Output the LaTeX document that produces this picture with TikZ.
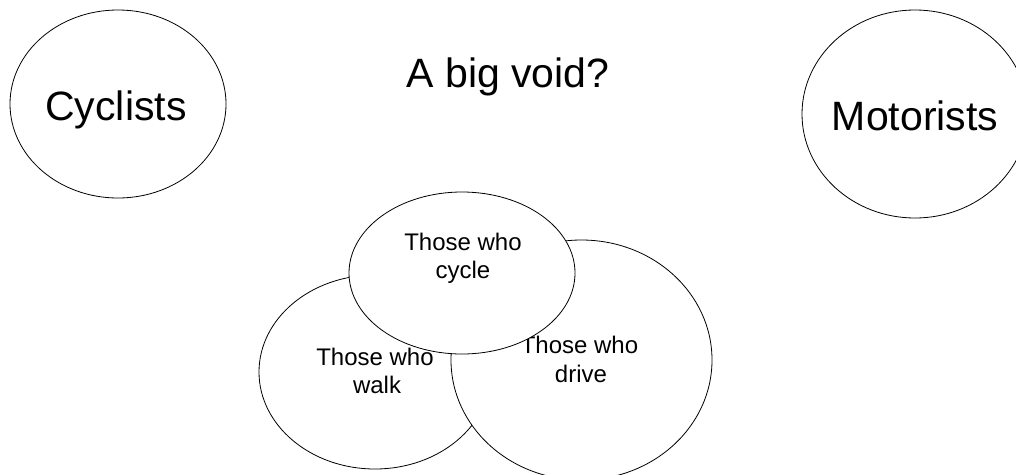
\documentclass[tikz,border=0pt]{standalone}
\usepackage{fontspec}
\setmainfont{Liberation Sans}
\usetikzlibrary{shapes.geometric}
\tikzset{
  blob/.style={ellipse, draw=black, fill=white, line width=0.8pt, inner sep=0pt, outer sep=0pt},
  bigtext/.style={anchor=base, inner sep=0pt, font=\fontsize{41}{48}\selectfont},
  smalltext/.style={anchor=base, inner sep=0pt, font=\fontsize{24}{28}\selectfont}
}
\begin{document}
\begin{tikzpicture}[x=1pt,y=-1pt]
\useasboundingbox (0,0) rectangle (1016,474);
\clip (0,0) rectangle (1016,474);
\node[blob, minimum width=216pt, minimum height=188pt] (cyclists) at (118,104) {};
\node[bigtext] (cyclistsT) at (116,120) {Cyclists};
\node[bigtext] (void) at (508,87) {A big void?};
\node[blob, minimum width=226pt, minimum height=208pt] (motorists) at (915,114) {};
\node[bigtext] (motoristsT) at (915,130) {Motorists};
\node[blob, minimum width=232pt, minimum height=194pt] (walk) at (375,372) {};
\node[smalltext] (walk1) at (375,365) {Those who};
\node[smalltext] (walk2) at (377,393) {walk};
\node[blob, minimum width=261pt, minimum height=240pt] (drive) at (581.5,360) {};
\node[smalltext] (drive1) at (579.5,353) {Those who};
\node[smalltext] (drive2) at (581,382) {drive};
\node[blob, minimum width=226pt, minimum height=162pt] (cycle) at (462,273) {};
\node[smalltext] (cycle1) at (463,250) {Those who};
\node[smalltext] (cycle2) at (463,278) {cycle};
\end{tikzpicture}
\end{document}
